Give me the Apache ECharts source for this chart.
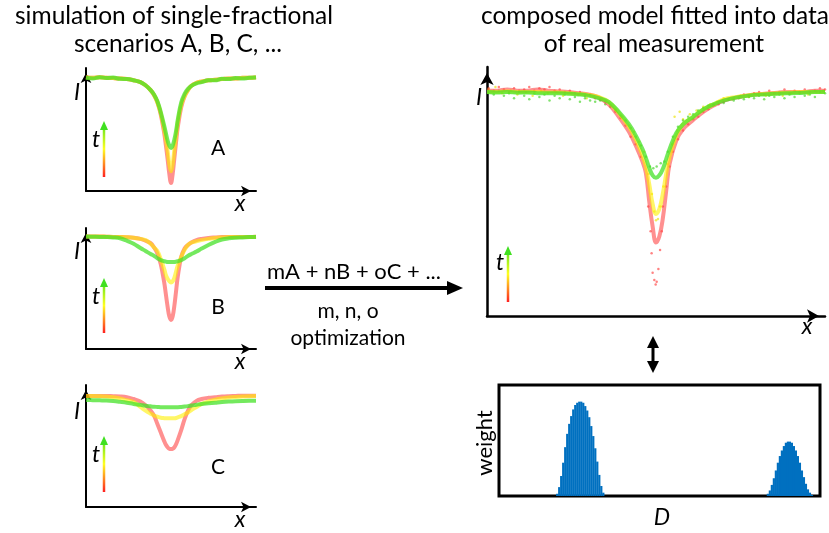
<!DOCTYPE html>
<html>
<head>
<meta charset="utf-8">
<script src="https://cdn.jsdelivr.net/npm/echarts@6/dist/echarts.min.js"></script>
<style>
  html, body { margin: 0; padding: 0; background: #fff; }
  #main { width: 829px; height: 533px; }
</style>
</head>
<body>
<div id="main"></div>
<script>
'use strict';

// x samples for the simulated scenarios (A, B, C)
const xsSim = [0, 4, 8, 12, 16, 20, 24, 28, 32, 35, 38, 40, 42, 44, 46, 47, 48, 49, 50,
  51, 52, 53, 54, 56, 58, 60, 62, 65, 68, 72, 76, 80, 84, 88, 92, 96, 100];

const aRed = [0.925, 0.92, 0.925, 0.92, 0.918, 0.915, 0.91, 0.90, 0.885, 0.86, 0.82, 0.78, 0.72, 0.62, 0.47, 0.37, 0.26, 0.14, 0.065,
  0.14, 0.27, 0.40, 0.52, 0.68, 0.77, 0.82, 0.855, 0.88, 0.89, 0.90, 0.905, 0.91, 0.915, 0.915, 0.92, 0.92, 0.925];
const aYellow = [0.925, 0.92, 0.925, 0.92, 0.918, 0.915, 0.91, 0.90, 0.885, 0.86, 0.82, 0.78, 0.72, 0.63, 0.50, 0.42, 0.33, 0.22, 0.16,
  0.22, 0.34, 0.45, 0.56, 0.70, 0.77, 0.82, 0.855, 0.88, 0.89, 0.90, 0.905, 0.91, 0.915, 0.915, 0.92, 0.92, 0.925];
const aGreen = [0.92, 0.915, 0.925, 0.918, 0.922, 0.912, 0.91, 0.90, 0.885, 0.86, 0.82, 0.785, 0.73, 0.64, 0.53, 0.47, 0.41, 0.37, 0.35,
  0.37, 0.42, 0.49, 0.58, 0.72, 0.79, 0.83, 0.855, 0.875, 0.885, 0.90, 0.90, 0.912, 0.91, 0.918, 0.915, 0.92, 0.922];

const bRed = [0.93, 0.93, 0.93, 0.928, 0.926, 0.925, 0.924, 0.92, 0.91, 0.895, 0.875, 0.84, 0.79, 0.70, 0.55, 0.45, 0.35, 0.27, 0.24,
  0.27, 0.36, 0.48, 0.60, 0.76, 0.83, 0.86, 0.88, 0.90, 0.91, 0.918, 0.922, 0.925, 0.926, 0.926, 0.926, 0.926, 0.928];
const bYellow = [0.93, 0.93, 0.93, 0.928, 0.926, 0.925, 0.924, 0.92, 0.91, 0.90, 0.87, 0.84, 0.81, 0.74, 0.66, 0.61, 0.58, 0.56, 0.55,
  0.56, 0.59, 0.64, 0.69, 0.76, 0.82, 0.86, 0.88, 0.89, 0.90, 0.91, 0.918, 0.922, 0.925, 0.926, 0.926, 0.926, 0.928];
const bGreen = [0.93, 0.928, 0.926, 0.925, 0.922, 0.915, 0.895, 0.87, 0.835, 0.81, 0.785, 0.77, 0.75, 0.735, 0.725, 0.722, 0.72, 0.72, 0.72,
  0.72, 0.72, 0.722, 0.725, 0.735, 0.75, 0.77, 0.785, 0.805, 0.83, 0.86, 0.885, 0.905, 0.915, 0.92, 0.922, 0.925, 0.926];

const cRed = [0.91, 0.91, 0.91, 0.91, 0.908, 0.906, 0.90, 0.885, 0.865, 0.835, 0.79, 0.75, 0.68, 0.61, 0.54, 0.51, 0.49, 0.478, 0.475,
  0.478, 0.49, 0.515, 0.55, 0.63, 0.72, 0.79, 0.835, 0.87, 0.885, 0.895, 0.90, 0.905, 0.908, 0.91, 0.912, 0.912, 0.912];
const cYellow = [0.91, 0.91, 0.908, 0.905, 0.90, 0.89, 0.875, 0.86, 0.82, 0.79, 0.765, 0.75, 0.74, 0.732, 0.728, 0.727, 0.727, 0.727, 0.727,
  0.727, 0.728, 0.73, 0.735, 0.745, 0.76, 0.775, 0.795, 0.82, 0.845, 0.865, 0.88, 0.89, 0.897, 0.902, 0.905, 0.908, 0.91];
const cGreen = [0.878, 0.876, 0.874, 0.872, 0.868, 0.862, 0.855, 0.845, 0.837, 0.83, 0.825, 0.822, 0.82, 0.818, 0.817, 0.817, 0.817, 0.817, 0.817,
  0.817, 0.817, 0.818, 0.818, 0.82, 0.823, 0.827, 0.832, 0.838, 0.845, 0.85, 0.855, 0.86, 0.864, 0.867, 0.869, 0.87, 0.87];

// fitted model on the measurement
const xsFit = [0, 3, 6, 9, 12, 15, 18, 21, 24, 27, 30, 33, 36, 39, 42, 44, 46, 47, 48, 49, 50,
  51, 52, 53, 54, 56, 58, 61, 64, 67, 70, 74, 78, 82, 86, 90, 94, 97, 100];
const fitRed = [0.905, 0.905, 0.91, 0.905, 0.905, 0.91, 0.905, 0.902, 0.90, 0.895, 0.89, 0.878, 0.85, 0.80, 0.74, 0.685, 0.62, 0.575, 0.46, 0.36, 0.295,
  0.32, 0.39, 0.50, 0.61, 0.705, 0.75, 0.787, 0.82, 0.845, 0.865, 0.878, 0.888, 0.893, 0.897, 0.90, 0.90, 0.905, 0.905];
const fitYellow = [0.90, 0.90, 0.902, 0.90, 0.90, 0.90, 0.898, 0.898, 0.895, 0.892, 0.888, 0.88, 0.86, 0.815, 0.76, 0.71, 0.645, 0.60, 0.53, 0.45, 0.41,
  0.43, 0.49, 0.57, 0.64, 0.725, 0.77, 0.80, 0.83, 0.85, 0.87, 0.88, 0.888, 0.892, 0.895, 0.898, 0.90, 0.90, 0.90];
const fitGreen = [0.90, 0.898, 0.90, 0.897, 0.898, 0.895, 0.895, 0.895, 0.893, 0.89, 0.885, 0.875, 0.86, 0.82, 0.77, 0.725, 0.67, 0.635, 0.595, 0.565, 0.555,
  0.565, 0.59, 0.63, 0.67, 0.735, 0.77, 0.80, 0.83, 0.85, 0.865, 0.878, 0.886, 0.89, 0.893, 0.895, 0.897, 0.90, 0.90];

// measured points
const measRed = [[0.5, 0.915], [2, 0.905], [3.5, 0.92], [5, 0.91], [6.5, 0.90], [8, 0.915], [9.5, 0.905], [11, 0.91], [12.5, 0.92], [14, 0.905],
  [15.5, 0.915], [17, 0.91], [18.5, 0.92], [20, 0.905], [21.5, 0.91], [23, 0.90], [24.5, 0.905], [26, 0.895], [27.5, 0.90], [29, 0.885],
  [30.5, 0.89], [32, 0.875], [33.5, 0.87], [35, 0.86], [36.5, 0.845], [38, 0.82], [39.5, 0.795], [41, 0.765], [42.5, 0.72], [44, 0.69],
  [45.5, 0.64], [47.7, 0.44], [48.4, 0.34], [48.7, 0.252], [49, 0.174], [49.5, 0.145], [49.9, 0.127], [50.2, 0.138], [50.7, 0.189], [51.2, 0.265],
  [51.7, 0.34], [52, 0.44], [53, 0.52], [54, 0.60], [55, 0.66], [56.5, 0.71], [58, 0.745], [59.5, 0.77], [61, 0.79], [62.5, 0.80],
  [64, 0.82], [65.5, 0.83], [67, 0.845], [68.5, 0.85], [70, 0.86], [71.5, 0.87], [73, 0.875], [74.5, 0.88], [76, 0.89], [77.5, 0.885],
  [79, 0.895], [80.5, 0.90], [82, 0.89], [83.5, 0.905], [85, 0.895], [86.5, 0.90], [88, 0.91], [89.5, 0.895], [91, 0.905], [92.5, 0.90],
  [94, 0.91], [95.5, 0.90], [97, 0.905], [98.5, 0.915], [100, 0.91]];
const measYellow = [[0.5, 0.91], [2.5, 0.92], [4.5, 0.895], [7, 0.905], [9, 0.89], [11.5, 0.90], [13.5, 0.885], [16, 0.905], [18, 0.895], [20.5, 0.90],
  [22.5, 0.885], [25, 0.895], [27, 0.89], [29.5, 0.875], [31.5, 0.88], [34, 0.87], [36, 0.855], [38, 0.83], [40, 0.80], [42, 0.765],
  [43.5, 0.74], [45, 0.70], [46.5, 0.66], [47.8, 0.57], [48.8, 0.49], [49.5, 0.42], [50, 0.385], [50.6, 0.39], [51.2, 0.44], [52.2, 0.52],
  [53.4, 0.61], [54.8, 0.69], [55.5, 0.80], [56.3, 0.745], [57, 0.82], [58, 0.79], [60, 0.81], [62, 0.825], [64, 0.84], [66, 0.85],
  [68, 0.86], [70, 0.875], [72.5, 0.87], [75, 0.885], [77.5, 0.88], [80, 0.89], [82.5, 0.885], [85, 0.895], [87.5, 0.885], [90, 0.895],
  [92.5, 0.90], [95, 0.89], [97.5, 0.90], [99.5, 0.905]];
const measGreen = [[0.5, 0.90], [2, 0.89], [3.5, 0.905], [5, 0.885], [6.5, 0.895], [8, 0.875], [9.5, 0.90], [11, 0.885], [12.5, 0.87], [14, 0.895],
  [15.5, 0.88], [17, 0.89], [18.5, 0.865], [20, 0.885], [21.5, 0.875], [23, 0.89], [24.5, 0.87], [26, 0.88], [27.5, 0.86], [29, 0.875],
  [30.5, 0.865], [32, 0.86], [33.5, 0.865], [35, 0.85], [36.5, 0.84], [38, 0.825], [39.5, 0.805], [41, 0.785], [42.5, 0.755], [44, 0.72],
  [45.5, 0.685], [47, 0.64], [48.2, 0.60], [49.2, 0.593], [50.2, 0.60], [51.4, 0.613], [52.5, 0.62], [53.5, 0.66], [55, 0.72], [56.5, 0.76],
  [58, 0.785], [59.5, 0.80], [61, 0.81], [62.5, 0.825], [64, 0.835], [65.5, 0.845], [67, 0.85], [68.5, 0.86], [70, 0.855], [71.5, 0.87],
  [73, 0.865], [74.5, 0.875], [76, 0.87], [77.5, 0.88], [79, 0.875], [80.5, 0.885], [82, 0.87], [83.5, 0.885], [85, 0.88], [86.5, 0.89],
  [88, 0.875], [89.5, 0.89], [91, 0.88], [92.5, 0.895], [94, 0.885], [95.5, 0.89], [97, 0.88], [98.5, 0.90], [100, 0.895]];

// weight distribution over D (bin index, weight)
const binIdx = [29, 30, 31, 32, 33, 34, 35, 36, 37, 38, 39, 40, 41, 42, 43, 44, 45, 46, 47, 48, 49, 50, 51, 52,
  134, 135, 136, 137, 138, 139, 140, 141, 142, 143, 144, 145, 146, 147, 148, 149, 150, 151, 152, 153, 154, 155, 156];
const binWeight = [0.02, 0.08, 0.18, 0.30, 0.44, 0.56, 0.65, 0.72, 0.78, 0.82, 0.84, 0.85, 0.85, 0.84, 0.81, 0.77, 0.71, 0.63, 0.54, 0.43, 0.31, 0.19, 0.09, 0.03,
  0.02, 0.05, 0.10, 0.16, 0.23, 0.30, 0.36, 0.41, 0.45, 0.48, 0.49, 0.49, 0.48, 0.45, 0.41, 0.36, 0.30, 0.23, 0.17, 0.11, 0.06, 0.03, 0.01];

const FONT = 'Lato, "Open Sans", sans-serif';
const RED = 'rgba(255, 70, 70, 0.6)';
const YELLOW = 'rgba(255, 240, 0, 0.6)';
const GREEN = 'rgba(70, 225, 40, 0.75)';

let myChart = echarts.init(document.getElementById('main'), null, {renderer: 'canvas'});

function zip(xs, ys) {
  return xs.map((x, i) => [x, ys[i]]);
}

function arrowAxis(gridIndex, size, type) {
  return {
    type: 'value', gridIndex: gridIndex, min: 0, max: type === 'x' ? (gridIndex === 4 ? 160 : 100) : 1,
    axisLine: {
      show: gridIndex !== 4, onZero: false,
      symbol: ['none', 'arrow'], symbolSize: size, symbolOffset: [0, -size[1] / 2],
      lineStyle: {color: '#000', width: gridIndex === 3 ? 2.5 : 2}
    },
    axisTick: {show: false}, axisLabel: {show: false}, splitLine: {show: false}
  };
}

function curve(name, idx, xs, ys, color) {
  return {
    name: name, type: 'line', xAxisIndex: idx, yAxisIndex: idx, data: zip(xs, ys),
    smooth: 0.4, symbol: 'none', silent: true,
    lineStyle: {color: color, width: 4}
  };
}

function dots(idx, pts, color) {
  return {
    type: 'scatter', xAxisIndex: idx, yAxisIndex: idx, data: pts,
    symbolSize: 2.5, silent: true, itemStyle: {color: color}
  };
}

// small gradient arrow for time t
function tArrow(x, yBottom, yTop) {
  return {
    type: 'group', children: [
      {
        type: 'line', shape: {x1: x, y1: yBottom, x2: x, y2: yTop + 7},
        style: {
          lineWidth: 2.5,
          stroke: new echarts.graphic.LinearGradient(x, yBottom, x, yTop, [
            {offset: 0, color: '#ff2020'}, {offset: 0.5, color: '#ffff20'}, {offset: 1, color: '#40e020'}
          ], true)
        }
      },
      {type: 'polygon', shape: {points: [[x - 4, yTop + 9], [x, yTop], [x + 4, yTop + 9]]}, style: {fill: '#40e020'}}
    ]
  };
}

function label(text, x, y, size, italic, extra) {
  return Object.assign({
    type: 'text', x: x, y: y,
    style: {
      text: text, fill: '#000', font: (italic ? 'italic ' : '') + size + 'px ' + FONT,
      align: 'center', verticalAlign: 'middle'
    }
  }, extra || {});
}

const grids = [
  {left: 86, top: 68, width: 170, height: 123},
  {left: 86, top: 228, width: 170, height: 121},
  {left: 86, top: 385, width: 170, height: 122},
  {left: 487, top: 67, width: 338, height: 249},
  {left: 499, top: 385, width: 321, height: 111, show: true, borderColor: '#000', borderWidth: 3}
];

let xAxes = [], yAxes = [];
grids.forEach((g, i) => {
  let s = i === 3 ? [10, 12] : [8, 10];
  xAxes.push(arrowAxis(i, s, 'x'));
  yAxes.push(arrowAxis(i, s, 'y'));
});

let option = {
  animation: false,
  backgroundColor: '#fff',
  grid: grids,
  xAxis: xAxes,
  yAxis: yAxes,
  series: [
    curve('A red', 0, xsSim, aRed, RED),
    curve('A yellow', 0, xsSim, aYellow, YELLOW),
    curve('A green', 0, xsSim, aGreen, GREEN),
    curve('B red', 1, xsSim, bRed, RED),
    curve('B yellow', 1, xsSim, bYellow, YELLOW),
    curve('B green', 1, xsSim, bGreen, GREEN),
    curve('C red', 2, xsSim, cRed, RED),
    curve('C yellow', 2, xsSim, cYellow, YELLOW),
    curve('C green', 2, xsSim, cGreen, GREEN),
    dots(3, measRed, 'rgba(255, 60, 60, 0.8)'),
    dots(3, measYellow, 'rgba(235, 225, 0, 0.8)'),
    dots(3, measGreen, 'rgba(60, 210, 30, 0.8)'),
    curve('fit red', 3, xsFit, fitRed, RED),
    curve('fit yellow', 3, xsFit, fitYellow, YELLOW),
    curve('fit green', 3, xsFit, fitGreen, GREEN),
    {
      type: 'bar', xAxisIndex: 4, yAxisIndex: 4, data: zip(binIdx, binWeight),
      barWidth: 2.2, silent: true, itemStyle: {color: '#0070c0'}
    }
  ],
  graphic: [
    label('simulation of single-fractional', 174, 16, 24.5, false),
    label('scenarios A, B, C, ...', 178, 44, 24.5, false),
    label('composed model fitted into data', 655, 16, 24.5, false),
    label('of real measurement', 654, 44, 24.5, false),

    label('I', 77, 93, 23, true), label('I', 77, 252, 23, true), label('I', 77, 412, 23, true), label('I', 479, 98, 23, true),
    label('x', 240, 204, 23, true), label('x', 240, 362, 23, true), label('x', 240, 520, 23, true), label('x', 807, 327, 23, true),
    label('t', 96, 140, 23, true), label('t', 96, 297, 23, true), label('t', 96, 455, 23, true), label('t', 500, 263, 23, true),
    label('A', 218, 148, 21, false), label('B', 218, 307, 21, false), label('C', 218, 467, 21, false),

    tArrow(104, 177, 121), tArrow(104, 333, 278), tArrow(104, 492, 436), tArrow(508, 302, 246),

    // composition arrow
    {type: 'line', shape: {x1: 265, y1: 288, x2: 450, y2: 288}, style: {stroke: '#000', lineWidth: 4}},
    {type: 'polygon', shape: {points: [[447, 281], [463, 288], [447, 295]]}, style: {fill: '#000'}},
    label('mA + nB + oC + ...', 354, 272, 22, false),
    label('m, n, o', 348, 311, 21, false),
    label('optimization', 348, 338, 21, false),

    // double arrow between fit and distribution
    {type: 'line', shape: {x1: 653, y1: 344, x2: 653, y2: 364}, style: {stroke: '#000', lineWidth: 3}},
    {type: 'polygon', shape: {points: [[647, 348], [653, 336], [659, 348]]}, style: {fill: '#000'}},
    {type: 'polygon', shape: {points: [[647, 361], [653, 373], [659, 361]]}, style: {fill: '#000'}},

    label('weight', 485, 443, 22, false, {rotation: Math.PI / 2}),
    label('D', 662, 518, 23, true)
  ]
};

myChart.setOption(option);
</script>
</body>
</html>
